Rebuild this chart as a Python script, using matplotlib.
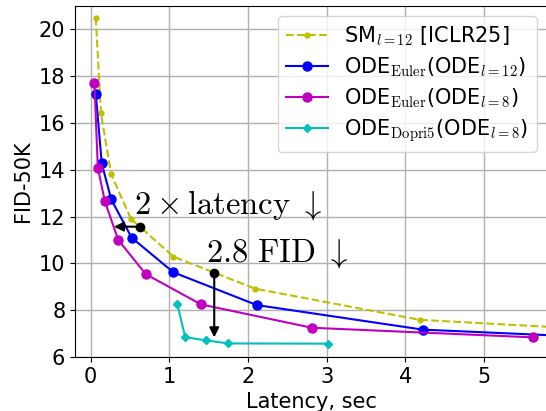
import matplotlib
matplotlib.use("Agg")
import matplotlib.pyplot as plt

plt.rcParams['mathtext.fontset'] = 'cm'
plt.rcParams['font.family'] = ['DejaVu Sans']

sm_x = [0.064, 0.13, 0.26, 0.51, 1.05, 2.09, 4.18, 6.3]
sm_y = [20.5, 16.41, 13.8, 11.91, 10.29, 8.92, 7.59, 7.2]

e12_x = [0.064, 0.14, 0.26, 0.52, 1.05, 2.11, 4.22, 8.4]
e12_y = [17.26, 14.27, 12.74, 11.1, 9.62, 8.22, 7.17, 6.55]

e8_x = [0.047, 0.09, 0.18, 0.35, 0.70, 1.40, 2.81, 5.62]
e8_y = [17.69, 14.09, 12.65, 11.0, 9.54, 8.25, 7.25, 6.84]

dp_x = [1.10, 1.20, 1.46, 1.75, 3.02]
dp_y = [8.28, 6.85, 6.71, 6.58, 6.57]

labels = [r'SM$_{l=12}$ [ICLR25]',
          r'ODE$_{\rm Euler}$(ODE$_{l=12}$)',
          r'ODE$_{\rm Euler}$(ODE$_{l=8}$)',
          r'ODE$_{\rm Dopri5}$(ODE$_{l=8}$)']

fig = plt.figure(figsize=(5.46, 4.11), dpi=100)
ax = fig.add_axes([75/546, 54/411, 472/546, 351/411])

ax.plot(sm_x, sm_y, '--', color='y', marker='o', markersize=3.5, linewidth=1.5, label=labels[0])
ax.plot(e12_x, e12_y, '-', color='b', marker='o', markersize=6.5, linewidth=1.5, label=labels[1])
ax.plot(e8_x, e8_y, '-', color='m', marker='o', markersize=6.5, linewidth=1.5, label=labels[2])
ax.plot(dp_x, dp_y, '-', color='c', marker='D', markersize=4.5, linewidth=1.5, label=labels[3])

# annotations
ax.plot([0.62], [11.57], 'o', color='black', markersize=6)
ax.annotate('', xy=(0.26, 11.57), xytext=(0.62, 11.57),
            arrowprops=dict(arrowstyle='-|>', color='black', lw=1.5, mutation_scale=14))
ax.text(0.55, 12.15, r'$2\times\mathrm{latency}\ \downarrow$', fontsize=23.5)

ax.plot([1.57], [9.6], 'o', color='black', markersize=6)
ax.annotate('', xy=(1.57, 6.72), xytext=(1.57, 9.6),
            arrowprops=dict(arrowstyle='-|>', color='black', lw=1.5, mutation_scale=14))
ax.text(1.47, 10.1, r'$2.8\ \mathrm{FID}\ \downarrow$', fontsize=23.5)

ax.set_xlim(-0.2, 5.8)
ax.set_ylim(6, 21)
ax.set_xticks([0, 1, 2, 3, 4, 5])
ax.set_yticks([6, 8, 10, 12, 14, 16, 18, 20])
ax.tick_params(labelsize=15)
ax.grid(True, color='#b0b0b0', linewidth=1)
ax.set_axisbelow(True)
ax.set_xlabel('Latency, sec', fontsize=15)
ax.set_ylabel('FID-50K', fontsize=15)
ax.legend(loc='upper right', fontsize=15, handlelength=2, borderaxespad=0.5,
          labelspacing=0.35, handletextpad=0.8)

fig.savefig('out.png', dpi=100)
